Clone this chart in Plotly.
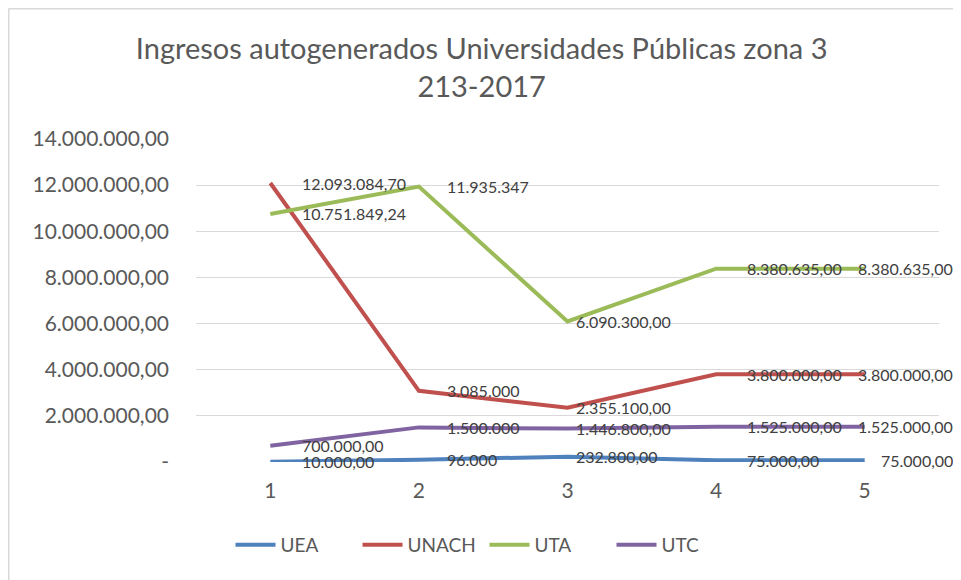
import plotly.graph_objects as go

categories = [1, 2, 3, 4, 5]

uea = [10000, 96000, 232800, 75000, 75000]
unach = [12093084.70, 3085000, 2355100, 3800000, 3800000]
uta = [10751849.24, 11935347, 6090300, 8380635, 8380635]
utc = [700000, 1500000, 1446800, 1525000, 1525000]

uea_labels = ["10.000,00", "96.000", "232.800,00", "75.000,00", "75.000,00"]
unach_labels = ["12.093.084,70", "3.085.000", "2.355.100,00", "3.800.000,00", "3.800.000,00"]
uta_labels = ["10.751.849,24", "11.935.347", "6.090.300,00", "8.380.635,00", "8.380.635,00"]
utc_labels = ["700.000,00", "1.500.000", "1.446.800,00", "1.525.000,00", "1.525.000,00"]

y_ticks = [0, 2000000, 4000000, 6000000, 8000000, 10000000, 12000000, 14000000]
y_ticktext = ["-", "2.000.000,00", "4.000.000,00", "6.000.000,00", "8.000.000,00",
              "10.000.000,00", "12.000.000,00", "14.000.000,00"]

series = [
    ("UEA", uea, uea_labels, "#4F81BD"),
    ("UNACH", unach, unach_labels, "#C0504D"),
    ("UTA", uta, uta_labels, "#9BBB59"),
    ("UTC", utc, utc_labels, "#8064A2"),
]

# label offsets per category (Excel had them nudged around)
label_shift = [30, 26, 6, 29, 90]

# the page body adds 8px, so the figure is a bit smaller than the window
W, H = 953, 572
ml, mr, mt, mb = 188, 22, 131, 118

fig = go.Figure()
annotations = []
for name, vals, labels, color in series:
    fig.add_trace(go.Scatter(
        x=categories, y=vals, name=name, mode="lines",
        line=dict(color=color, width=4),
        hoverinfo="skip",
    ))
    for i, (c, v, t) in enumerate(zip(categories, vals, labels)):
        last = i == len(categories) - 1
        annotations.append(dict(
            x=c, y=v, xref="x", yref="y", text=t, showarrow=False,
            xanchor="right" if last else "left", yanchor="middle",
            xshift=label_shift[i],
            font=dict(family="Lato", size=16, color="#404040"),
        ))

pw = W - ml - mr
ph = H - mt - mb
bx = (0.5 - ml) / pw
by = (H - mb - 0.5) / ph

fig.update_layout(
    width=W, height=H,
    margin=dict(l=ml, r=mr, t=mt, b=mb),
    paper_bgcolor="white", plot_bgcolor="white",
    font=dict(family="Lato", color="#595959"),
    title=dict(
        text="Ingresos autogenerados Universidades Públicas zona 3<br>213-2017",
        x=0.497, xref="container", xanchor="center",
        y=1 - 51 / H, yref="container", yanchor="top",
        font=dict(family="Lato", size=29, color="#595959"),
    ),
    xaxis=dict(
        range=[0.5, 5.5], tickvals=categories, ticktext=[str(c) for c in categories],
        showgrid=False, zeroline=False, showline=False, ticks="",
        ticklabelstandoff=14,
        tickfont=dict(size=21, color="#595959"),
    ),
    yaxis=dict(
        range=[0, 14000000], tickvals=y_ticks, ticktext=y_ticktext,
        showgrid=True, gridcolor="#D9D9D9", gridwidth=1,
        zeroline=False, showline=False, ticks="", ticklabelstandoff=26,
        tickfont=dict(size=21, color="#595959"),
    ),
    legend=dict(
        orientation="h", x=0.5, xref="container", xanchor="center",
        y=1 - 537 / H, yref="container", yanchor="middle",
        font=dict(size=19, color="#595959"), itemwidth=40,
        entrywidth=72, entrywidthmode="pixels",
    ),
    annotations=annotations,
    shapes=[
        dict(type="line", xref="paper", yref="paper", x0=bx, x1=1 + mr / pw,
             y0=by, y1=by, line=dict(color="#D9D9D9", width=2)),
        dict(type="line", xref="paper", yref="paper", x0=bx, x1=bx,
             y0=by, y1=-mb / ph, line=dict(color="#D9D9D9", width=2)),
    ],
)

fig.write_html("out.html")
